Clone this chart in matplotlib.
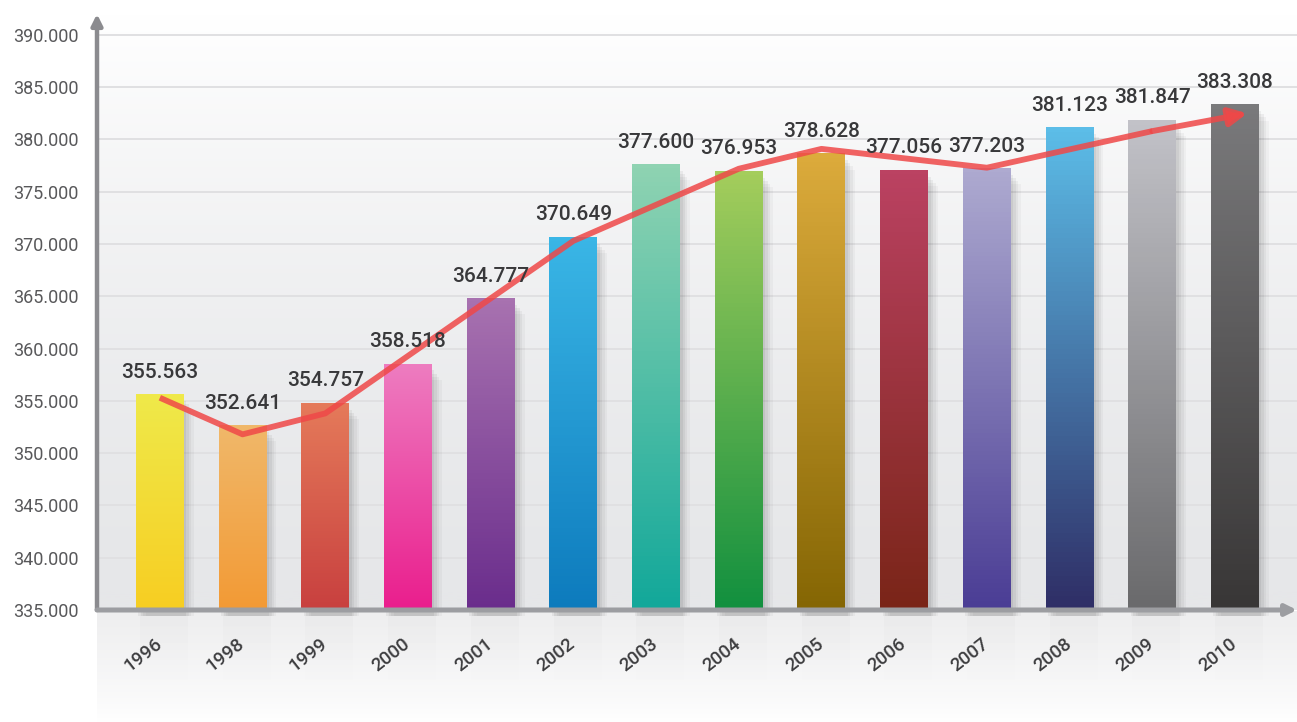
import numpy as np
import matplotlib
matplotlib.use("Agg")
import matplotlib.pyplot as plt
from matplotlib.colors import to_rgb, LinearSegmentedColormap

# data
years = ['1996', '1998', '1999', '2000', '2001', '2002', '2003',
         '2004', '2005', '2006', '2007', '2008', '2009', '2010']
values = [355.563, 352.641, 354.757, 358.518, 364.777, 370.649, 377.600,
          376.953, 378.628, 377.056, 377.203, 381.123, 381.847, 383.308]
labels = ['355.563', '352.641', '354.757', '358.518', '364.777', '370.649', '377.600',
          '376.953', '378.628', '377.056', '377.203', '381.123', '381.847', '383.308']
# trend line (red), drawn through some of the years only
line_x = [0, 1, 2, 5, 7, 8, 10, 12, 13.15]
line_y = [355.3, 351.8, 353.8, 370.3, 377.2, 379.1, 377.3, 380.8, 382.5]

top_colors = ['#efe94a', '#f0b86a', '#e57a5a', '#ee7cc0', '#a872b0', '#3ab6e6', '#8fd3b2',
              '#a4cd5c', '#dcab3c', '#bb4262', '#aeaad0', '#5cbde8', '#c2c2c8', '#7a7a7c']
bot_colors = ['#f7ce22', '#f39a35', '#c8403f', '#ea1e8d', '#6a2d8c', '#0d7bbd', '#12a89a',
              '#12903f', '#856604', '#7a2518', '#4a3d95', '#2f2e66', '#6a6a6c', '#383636']

yticks = [335, 340, 345, 350, 355, 360, 365, 370, 375, 380, 385, 390]
ytick_labels = ['%d.000' % t for t in yticks]

plt.rcParams['font.family'] = ['Roboto', 'DejaVu Sans']

W, H = 1297, 722
fig = plt.figure(figsize=(W / 100, H / 100), dpi=100)
fig.patch.set_facecolor('white')

ymin, ymax = 335, 392
xmin, xmax = -0.76, 13.75
bw = 0.58

# reflection area under the axis
bax = fig.add_axes([97 / W, 0, 1 - 97 / W, 111 / H])
bax.set_xlim(xmin, xmax)
bax.set_ylim(0, 1)
bax.axis('off')
g = np.linspace(0, 1, 200).reshape(-1, 1) ** 0.8
cm_b = LinearSegmentedColormap.from_list('b', ['#ffffff', '#eeeeef'])
bax.imshow(g, extent=(xmin, xmax, 0, 1), aspect='auto', cmap=cm_b, origin='lower', zorder=0)
for i in range(len(years)):
    fade = np.zeros((100, 1, 4))
    fade[..., :3] = 0.78
    fade[:, 0, 3] = np.linspace(0, 0.22, 100) ** 1.5
    bax.imshow(fade, extent=(i - bw / 2 + 0.05, i + bw / 2 + 0.05, 0.3, 1),
               aspect='auto', origin='lower', zorder=1)

ax = fig.add_axes([97 / W, 112 / H, 1 - 97 / W, 596 / H])
ax.set_xlim(xmin, xmax)
ax.set_ylim(ymin, ymax)

# background gradient
g = np.linspace(0, 1, 300).reshape(-1, 1) ** 1.6
cm_bg = LinearSegmentedColormap.from_list('bg', ['#e6e7e9', '#ffffff'])
ax.imshow(g, extent=(xmin, xmax, ymin, ymax), aspect='auto', cmap=cm_bg, origin='lower', zorder=0)

for t in yticks[1:]:
    ax.axhline(t, color='#e0e0e2', lw=1.4, zorder=1)

# bars with shadow and vertical gradient
for i, v in enumerate(values):
    for k, a in enumerate([0.05, 0.05, 0.04, 0.03]):
        ax.add_patch(plt.Rectangle((i - bw / 2 + 0.03 + 0.03 * k, ymin - 0.6),
                                   bw, v - ymin - 0.3 * k, color='black', alpha=a,
                                   lw=0, zorder=2, clip_on=False))
    c1 = np.array(to_rgb(top_colors[i]))
    c2 = np.array(to_rgb(bot_colors[i]))
    tt = np.linspace(0, 1, 100).reshape(-1, 1, 1)
    img = c2 * (1 - tt) + c1 * tt
    ax.imshow(img, extent=(i - bw / 2, i + bw / 2, ymin, v), aspect='auto',
              origin='lower', zorder=3)
    ax.annotate(labels[i], xy=(i, v), xytext=(0, 13), textcoords='offset pixels',
                ha='center', va='bottom', fontsize=15, fontweight='medium',
                color='#38383a', zorder=6)
    ax.annotate(years[i], xy=(i, ymin), xytext=(-17, -45), textcoords='offset pixels',
                ha='center', va='center', rotation=38, fontsize=13.5, fontweight='medium',
                color='#3d3d3f', annotation_clip=False)

# trend line with arrow head
ax.plot(line_x[:-1], line_y[:-1], color='#ef4848', lw=4.2, alpha=0.85,
        solid_joinstyle='round', solid_capstyle='butt', zorder=5)
ax.annotate('', xy=(line_x[-1], line_y[-1]), xytext=(line_x[-2], line_y[-2]),
            arrowprops=dict(arrowstyle='-|>', color='#ef4848', lw=4.2, alpha=0.85,
                            mutation_scale=26, shrinkA=0, shrinkB=0), zorder=5)

# axes with arrows
for s in ax.spines.values():
    s.set_visible(False)
ax.annotate('', xy=(0, 1), xytext=(0, 0), xycoords='axes fraction',
            arrowprops=dict(arrowstyle='-|>', color='#8b8b8f', lw=3.2,
                            mutation_scale=16, shrinkA=0, shrinkB=0), zorder=7)
ax.annotate('', xy=(1, 0), xytext=(0, 0), xycoords='axes fraction',
            arrowprops=dict(arrowstyle='-|>', color='#9c9da1', lw=3.6,
                            mutation_scale=16, shrinkA=0, shrinkB=0), zorder=7)

ax.set_yticks(yticks)
ax.set_yticklabels(ytick_labels, fontsize=13, color='#58585a')
ax.tick_params(axis='y', length=0, pad=13)
ax.set_xticks([])

fig.savefig('out.png', dpi=100)
